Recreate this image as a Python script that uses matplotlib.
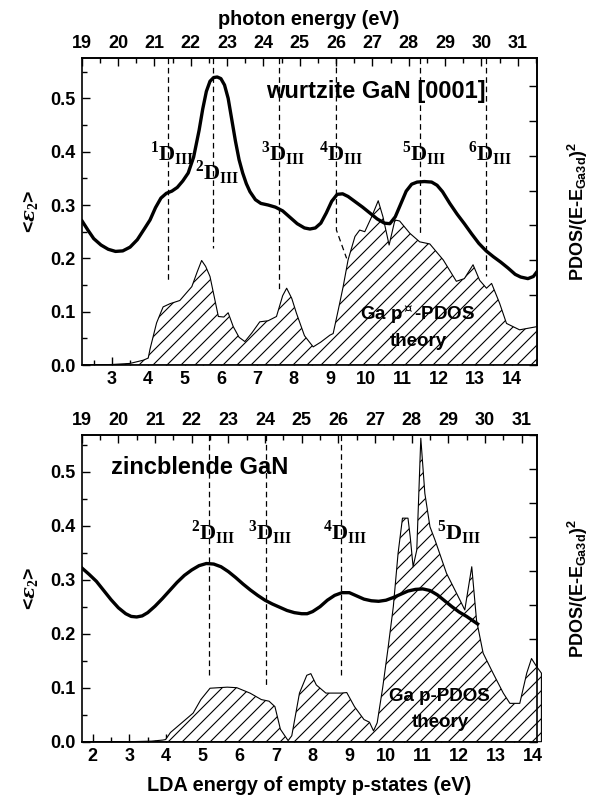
import matplotlib
matplotlib.use('Agg')
import matplotlib.pyplot as plt
from matplotlib.ticker import MultipleLocator, FormatStrFormatter, NullFormatter

# render at a higher dpi (same pixel size) so the hatch spacing matches the original
DPI = 126
S = 100.0 / DPI          # converts sizes designed for 100 dpi


def P(v):
    return v * S


plt.rcParams['font.family'] = ['Liberation Sans', 'DejaVu Sans']
plt.rcParams['font.weight'] = 'bold'
plt.rcParams['hatch.linewidth'] = P(0.8)
plt.rcParams['mathtext.fontset'] = 'custom'
plt.rcParams['mathtext.rm'] = 'Liberation Serif:bold'
plt.rcParams['mathtext.bf'] = 'Liberation Sans:bold'
plt.rcParams['mathtext.it'] = 'DejaVu Serif:italic'

# ---------------- data: wurtzite GaN [0001] ----------------
wz_eps_x = [2.18, 2.35, 2.5, 2.7, 2.9, 3.1, 3.3, 3.5, 3.7, 3.9, 4.05, 4.2, 4.35, 4.5, 4.65,
            4.8, 4.95, 5.1, 5.25, 5.4, 5.5, 5.6, 5.7, 5.8, 5.9, 6.0, 6.1, 6.2, 6.3, 6.4,
            6.5, 6.6, 6.7, 6.8, 6.95, 7.1, 7.3, 7.5, 7.7, 7.9, 8.1, 8.3, 8.45, 8.6, 8.75,
            8.9, 9.05, 9.2, 9.35, 9.5, 9.7, 9.9, 10.1, 10.3, 10.5, 10.65, 10.8, 10.95,
            11.1, 11.25, 11.4, 11.6, 11.8, 11.95, 12.1, 12.3, 12.5, 12.7, 12.9, 13.1, 13.3,
            13.5, 13.7, 13.9, 14.1, 14.25, 14.45, 14.6, 14.7]
wz_eps_y = [0.27, 0.252, 0.237, 0.225, 0.217, 0.213, 0.214, 0.221, 0.235, 0.256, 0.272,
            0.295, 0.313, 0.322, 0.326, 0.333, 0.345, 0.36, 0.39, 0.44, 0.48, 0.513, 0.532,
            0.539, 0.54, 0.537, 0.525, 0.5, 0.46, 0.42, 0.385, 0.36, 0.34, 0.325, 0.31,
            0.303, 0.3, 0.296, 0.289, 0.277, 0.265, 0.257, 0.255, 0.257, 0.266, 0.285,
            0.307, 0.32, 0.321, 0.316, 0.306, 0.296, 0.285, 0.274, 0.266, 0.265, 0.278,
            0.302, 0.326, 0.339, 0.343, 0.344, 0.343, 0.337, 0.325, 0.303, 0.283, 0.265,
            0.246, 0.228, 0.214, 0.203, 0.193, 0.182, 0.17, 0.165, 0.162, 0.166, 0.175]
wz_pdos_x = [2.18, 3.0, 3.5, 3.86, 4.0, 4.05, 4.23, 4.41, 4.6, 4.87, 5.2, 5.35, 5.47, 5.58,
             5.7, 5.93, 6.08, 6.2, 6.34, 6.5, 6.66, 6.85, 7.07, 7.3, 7.53, 7.7, 7.81, 7.95,
             8.08, 8.3, 8.54, 8.75, 9.0, 9.09, 9.27, 9.365, 9.5, 9.69, 9.82, 9.96, 10.15,
             10.33, 10.46, 10.63, 10.79, 10.92, 11.2, 11.47, 11.75, 12.12, 12.48, 12.7,
             12.94, 13.12, 13.31, 13.45, 13.67, 13.86, 14.22, 14.7]
wz_pdos_y = [0.0, 0.001, 0.003, 0.009, 0.013, 0.03, 0.079, 0.109, 0.115, 0.121, 0.147,
             0.175, 0.196, 0.185, 0.166, 0.091, 0.09, 0.098, 0.072, 0.052, 0.044, 0.06,
             0.081, 0.083, 0.091, 0.13, 0.144, 0.125, 0.097, 0.055, 0.034, 0.043, 0.056,
             0.059, 0.116, 0.147, 0.197, 0.241, 0.253, 0.25, 0.278, 0.308, 0.278, 0.225,
             0.272, 0.27, 0.247, 0.231, 0.227, 0.197, 0.157, 0.162, 0.188, 0.159, 0.144,
             0.153, 0.116, 0.078, 0.066, 0.072]
wz_d_x = [4.55, 5.79, 7.60, 9.18, 11.47, 13.29]
wz_d_end = [0.16, 0.219, 0.141, 0.253, 0.241, 0.166]
wz_d_num = ['1', '2', '3', '4', '5', '6']
wz_d_label_y = [0.395, 0.36, 0.395, 0.395, 0.395, 0.395]

# ---------------- data: zincblende GaN ----------------
zb_eps_x = [1.70, 1.9, 2.1, 2.3, 2.5, 2.7, 2.9, 3.05, 3.2, 3.35, 3.5, 3.7, 3.9, 4.1, 4.3,
            4.5, 4.7, 4.9, 5.1, 5.3, 5.5, 5.7, 5.9, 6.1, 6.3, 6.5, 6.7, 6.9, 7.1, 7.3, 7.5,
            7.7, 7.85, 8.0, 8.2, 8.4, 8.6, 8.8, 9.0, 9.2, 9.4, 9.6, 9.8, 10.0, 10.2, 10.4,
            10.6, 10.8, 11.0, 11.2, 11.4, 11.6, 11.8, 12.0, 12.2, 12.35, 12.5]
zb_eps_y = [0.322, 0.31, 0.297, 0.28, 0.263, 0.248, 0.237, 0.232, 0.231, 0.233, 0.239,
            0.251, 0.265, 0.28, 0.295, 0.308, 0.318, 0.326, 0.33, 0.329, 0.324, 0.315,
            0.304, 0.292, 0.281, 0.271, 0.262, 0.255, 0.249, 0.243, 0.239, 0.237, 0.237,
            0.241, 0.25, 0.262, 0.271, 0.276, 0.276, 0.27, 0.264, 0.261, 0.26, 0.262, 0.267,
            0.273, 0.279, 0.282, 0.283, 0.28, 0.272, 0.261, 0.25, 0.24, 0.232, 0.225, 0.218]
zb_pdos_x = [1.70, 3.0, 3.6, 3.91, 3.99, 4.12, 4.43, 4.74, 4.95, 5.2, 5.67, 5.93, 6.29,
             6.6, 6.81, 6.97, 7.12, 7.33, 7.43, 7.64, 7.84, 7.95, 8.1, 8.36, 8.78, 8.93,
             9.14, 9.4, 9.55, 9.66, 9.76, 9.91, 10.05, 10.2, 10.33, 10.45, 10.6, 10.66,
             10.74, 10.84, 10.95, 11.06, 11.2, 11.34, 11.65, 12.02, 12.15, 12.34, 12.47,
             12.65, 12.92, 13.2, 13.38, 13.65, 13.84, 13.97, 14.11, 14.24, 14.24]
zb_pdos_y = [0.0, 0.0, 0.001, 0.003, 0.004, 0.017, 0.035, 0.053, 0.078, 0.099, 0.101, 0.1,
             0.09, 0.078, 0.075, 0.065, 0.023, 0.002, 0.011, 0.09, 0.123, 0.126, 0.105,
             0.09, 0.09, 0.091, 0.065, 0.041, 0.036, 0.02, 0.035, 0.1, 0.17, 0.25, 0.349,
             0.414, 0.414, 0.38, 0.324, 0.355, 0.562, 0.46, 0.398, 0.373, 0.312, 0.262,
             0.244, 0.324, 0.225, 0.164, 0.127, 0.09, 0.071, 0.071, 0.127, 0.154, 0.139,
             0.127, 0.0]
zb_d_x = [5.18, 6.73, 8.77]
zb_d_end = [0.12, 0.105, 0.12]
zb_d_label_x = [5.18, 6.73, 8.77, 11.88]
zb_d_label_num = ['2', '3', '4', '5']
zb_d_label_y = 0.386

fig = plt.figure(figsize=(597 / DPI, 797 / DPI), dpi=DPI)
ax1 = fig.add_axes([0.1369, 0.542, 0.762, 0.3848])
ax2 = fig.add_axes([0.1369, 0.0694, 0.762, 0.3848])

TICKFS = P(13)
LABFS = P(14.3)
serif = ['Liberation Serif', 'DejaVu Serif']
HATCH = '///'


def style(ax, xlim, ylim, offset, rscale):
    ax.set_xlim(*xlim)
    ax.set_ylim(*ylim)
    for s in ax.spines.values():
        s.set_linewidth(P(1.2))
    ax.xaxis.set_major_locator(MultipleLocator(1))
    ax.xaxis.set_minor_locator(MultipleLocator(0.5))
    ax.yaxis.set_major_locator(MultipleLocator(0.1))
    ax.yaxis.set_minor_locator(MultipleLocator(0.05))
    ax.yaxis.set_major_formatter(FormatStrFormatter('%.1f'))
    ax.tick_params(which='both', direction='in', width=P(1.0), labelsize=TICKFS,
                   top=False, right=False)
    ax.tick_params(which='major', length=P(6), pad=P(4.5))
    ax.tick_params(which='minor', length=P(3.5))
    for lab in ax.get_xticklabels() + ax.get_yticklabels():
        lab.set_fontweight('bold')
    top = ax.secondary_xaxis('top', functions=(lambda x: x + offset, lambda x: x - offset))
    top.xaxis.set_major_locator(MultipleLocator(1))
    top.xaxis.set_minor_locator(MultipleLocator(0.5))
    top.tick_params(which='both', direction='in', width=P(1.0), labelsize=TICKFS)
    top.tick_params(which='major', length=P(6), pad=P(4.5))
    top.tick_params(which='minor', length=P(3.5))
    top.spines['top'].set_linewidth(P(1.2))
    right = ax.secondary_yaxis('right', functions=(lambda y: y * rscale, lambda y: y / rscale))
    right.yaxis.set_major_locator(MultipleLocator(1))
    right.yaxis.set_major_formatter(NullFormatter())
    right.tick_params(which='both', direction='in', width=P(1.0), length=P(6))
    right.spines['right'].set_linewidth(P(1.2))
    right.set_ylabel(r'PDOS/(E-E$_{\mathbf{Ga3d}}$)$^{\mathbf{2}}$', fontsize=P(13),
                     fontweight='bold', labelpad=P(17))
    ax.set_ylabel(r'<$\varepsilon_2$>', fontsize=P(14), fontweight='bold', labelpad=P(7))
    return top


def dlabel(ax, x, y, num):
    ax.text(x, y, r'$^{%s}$D$_{\mathrm{III}}$' % num, ha='center', va='center',
            fontsize=P(16), fontweight='bold', family=serif, zorder=5)


dash = (0, (4.5, 3))
THICK = P(2.4)
THIN = P(0.8)
DASHW = P(0.9)

# ---------- top panel ----------
ax1.fill_between(wz_pdos_x, 0, wz_pdos_y, facecolor='white', edgecolor='black',
                 hatch=HATCH, linewidth=THIN, zorder=2)
ax1.plot(wz_eps_x, wz_eps_y, color='black', lw=THICK, zorder=4, solid_joinstyle='round')
ylim1 = (0, 0.575)
for i, (x, e) in enumerate(zip(wz_d_x, wz_d_end)):
    if i == 3:
        ax1.plot([x, x, 9.46], [ylim1[1], e, 0.2], color='black', lw=DASHW, ls=dash, zorder=3)
    else:
        ax1.plot([x, x], [ylim1[1], e], color='black', lw=DASHW, ls=dash, zorder=3)
for x, y, n in zip(wz_d_x, wz_d_label_y, wz_d_num):
    dlabel(ax1, x + 0.12, y, n)
ax1.text(10.26, 0.512, 'wurtzite GaN [0001]', ha='center', va='center', fontsize=P(17),
         fontweight='bold')
ax1.text(11.42, 0.094, r'Ga p$^{\perp}$-PDOS', ha='center', va='center', fontsize=P(13.5),
         fontweight='bold', zorder=5)
ax1.text(11.42, 0.045, 'theory', ha='center', va='center', fontsize=P(13.5),
         fontweight='bold', zorder=5)
top1 = style(ax1, (2.17, 14.69), ylim1, 16.83, 8.79 / 0.575)
top1.set_xlabel('photon energy (eV)', fontsize=LABFS, fontweight='bold', labelpad=P(7))

# ---------- bottom panel ----------
ax2.fill_between(zb_pdos_x, 0, zb_pdos_y, facecolor='white', edgecolor='black',
                 hatch=HATCH, linewidth=THIN, zorder=2, clip_on=False)
ax2.plot(zb_eps_x, zb_eps_y, color='black', lw=THICK, zorder=4, solid_joinstyle='round')
ylim2 = (0, 0.568)
for x, e in zip(zb_d_x, zb_d_end):
    ax2.plot([x, x], [ylim2[1], e], color='black', lw=DASHW, ls=dash, zorder=3)
for x, n in zip(zb_d_label_x, zb_d_label_num):
    dlabel(ax2, x + 0.12, zb_d_label_y, n)
ax2.text(4.93, 0.507, 'zincblende GaN', ha='center', va='center', fontsize=P(17),
         fontweight='bold')
ax2.text(11.47, 0.083, 'Ga p-PDOS', ha='center', va='center', fontsize=P(13.5),
         fontweight='bold', zorder=5)
ax2.text(11.47, 0.035, 'theory', ha='center', va='center', fontsize=P(13.5),
         fontweight='bold', zorder=5)
style(ax2, (1.70, 14.11), ylim2, 17.30, 9.0 / 0.568)
ax2.set_xlabel('LDA energy of empty p-states (eV)', fontsize=LABFS, fontweight='bold',
               labelpad=P(8))

fig.savefig('out.png', dpi=DPI)
